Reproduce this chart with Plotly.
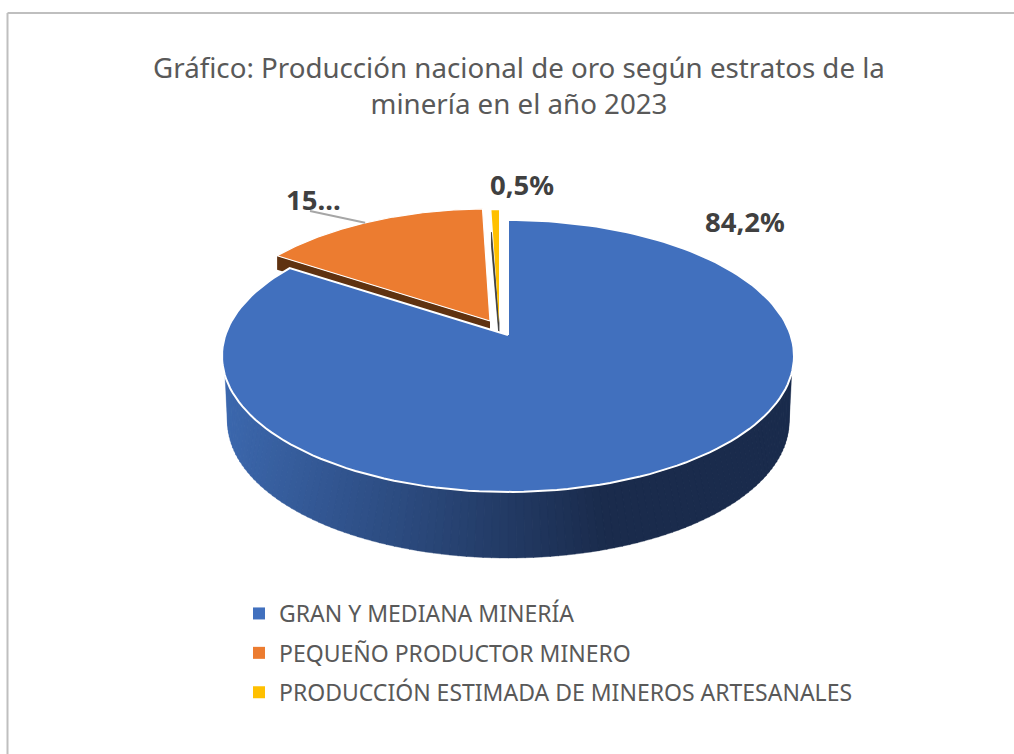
import numpy as np
import plotly.graph_objects as go

# ---- data ----
categories = ["GRAN Y MEDIANA MINERÍA", "PEQUEÑO PRODUCTOR MINERO",
              "PRODUCCIÓN ESTIMADA DE MINEROS ARTESANALES"]
values = [84.2, 15.3, 0.5]
slice_labels = ["84,2%", "15...", "0,5%"]
title_text = "Gráfico: Producción nacional de oro según estratos de la<br>minería en el año 2023"

# ---- styling ----
top_colors = ["#4170BE", "#EC7C30", "#FFC000"]
wall_colors = ["#1A2B4C", "#5F3210", "#3A3A3A"]
apexes = [(508, 335), (490, 321), (499, 323)]   # exploded slice apexes, px
slice_scale = [1.0, 0.975, 0.98]
wall_depth = [66, 14, 13]
K = 0.154       # perspective strength
RX, RY = 282.6, 132.8
TEXT = "#595959"
FONT = "Noto Sans"

W, H = 1014, 754


def project(theta_deg, apex, rx=RX, ry=RY):
    t = np.radians(theta_deg)
    u, v = np.sin(t), np.cos(t)
    d = 1 + K * v
    return apex[0] + rx * u / d, apex[1] - ry * v / d


def mix(c1, c2, f):
    a = [int(c1[i:i + 2], 16) for i in (1, 3, 5)]
    b = [int(c2[i:i + 2], 16) for i in (1, 3, 5)]
    return "rgb(%d,%d,%d)" % tuple(round(p + (q - p) * f) for p, q in zip(a, b))


def poly(xs, ys, fill, line_color=None, line_width=0):
    return go.Scatter(
        x=list(xs), y=list(ys), mode="lines", fill="toself", fillcolor=fill,
        line=dict(color=line_color or fill, width=line_width),
        hoverinfo="skip", showlegend=False)


total = sum(values)
edges = np.concatenate([[0], np.cumsum(values) / total * 360])
traces = []


def sector(i):
    th = np.linspace(edges[i], edges[i + 1], 160)
    s = slice_scale[i]
    x, y = project(th, apexes[i], RX * s, RY * s)
    return np.r_[apexes[i][0], x, apexes[i][0]], np.r_[apexes[i][1], y, apexes[i][1]]


# artisanal slice: its cut wall, then its top
ax, ay = apexes[2]
rx_, ry_ = project(edges[2], apexes[2], RX * slice_scale[2], RY * slice_scale[2])
traces.append(poly([ax, rx_, rx_, ax, ax],
                   [ay, ry_ + 22, ry_ + 22 + wall_depth[2], ay + wall_depth[2], ay],
                   wall_colors[2], wall_colors[2], 0.8))
x, y = sector(2)
traces.append(poly(x, y, top_colors[2]))

# small producers slice: wall under its cut edge, then its top
ax, ay = apexes[1]
tx, ty = project(edges[1], apexes[1], RX * slice_scale[1], RY * slice_scale[1])
traces.append(poly([tx, ax, ax, tx, tx],
                   [ty, ay, ay + wall_depth[1], ty + wall_depth[1], ty], wall_colors[1]))
x, y = sector(1)
traces.append(poly(x, y, top_colors[1], "#FFFFFF", 1.2))

# large mining slice: outer rim as graded strips
N = 110
apex0 = apexes[0]
low_apex = (apex0[0], apex0[1] + wall_depth[0])
top_th = np.linspace(253, 107, N + 1)
low_th = np.linspace(261, 99, N + 1)
tx, ty = project(top_th, apex0)
lx, ly = project(low_th, low_apex, rx=RX * 0.981, ry=RY)
for j in range(N):
    f = min(1.0, (0.5 * (tx[j] + tx[j + 1]) - 225) / 375)
    col = mix("#3C68AE", "#1A2B4C", f)
    traces.append(poly([tx[j], tx[j + 1] + 0.6, lx[j + 1] + 0.6, lx[j], tx[j]],
                       [ty[j], ty[j + 1], ly[j + 1], ly[j], ty[j]], col, col, 0.4))
x, y = sector(0)
traces.append(poly(x, y, top_colors[0], "#FFFFFF", 2))

# leader line of the truncated label
lead_x, lead_y = project(edges[1] + 26, apexes[1], RX * slice_scale[1], RY * slice_scale[1])
traces.append(go.Scatter(x=[310, lead_x], y=[211, lead_y], mode="lines",
                         line=dict(color="#A6A6A6", width=2),
                         hoverinfo="skip", showlegend=False))

# legend entries
for i, name in enumerate(categories):
    traces.append(go.Scatter(x=[None], y=[None], mode="markers", name=name,
                             legendgroup=name,
                             marker=dict(symbol="square", size=8, color=top_colors[i])))

fig = go.Figure(traces)

label_pos = [(745, 221), (313, 199), (522, 184)]
annotations = [dict(x=p[0], y=p[1], text="<b>%s</b>" % t, showarrow=False,
                    font=dict(family=FONT, size=27.5, color="#404040"),
                    xanchor="center", yanchor="middle")
               for t, p in zip(slice_labels, label_pos)]

shapes = [
    dict(type="line", x0=7.5, x1=W, y0=13, y1=13, line=dict(color="#BFBFBF", width=2)),
    dict(type="line", x0=7.5, x1=7.5, y0=13, y1=H, line=dict(color="#BFBFBF", width=2)),
]

fig.update_layout(
    width=W, height=H, margin=dict(l=0, r=0, t=0, b=0),
    paper_bgcolor="white", plot_bgcolor="white",
    title=dict(text=title_text, x=519 / W, xanchor="center", y=1 - 78 / H, yanchor="top",
               font=dict(family=FONT, size=27.7, color=TEXT)),
    xaxis=dict(range=[0, W], visible=False, fixedrange=True),
    yaxis=dict(range=[H, 0], visible=False, fixedrange=True),
    legend=dict(x=239 / W, y=1 - 592 / H, xanchor="left", yanchor="top",
                tracegroupgap=6.5, itemsizing="constant",
                font=dict(family=FONT, size=23, color=TEXT),
                bgcolor="rgba(0,0,0,0)"),
    annotations=annotations, shapes=shapes, showlegend=True,
)

fig.write_html("out.html", config={"displayModeBar": False},
               post_script="document.body.style.margin='0';document.body.style.overflow='hidden';")
